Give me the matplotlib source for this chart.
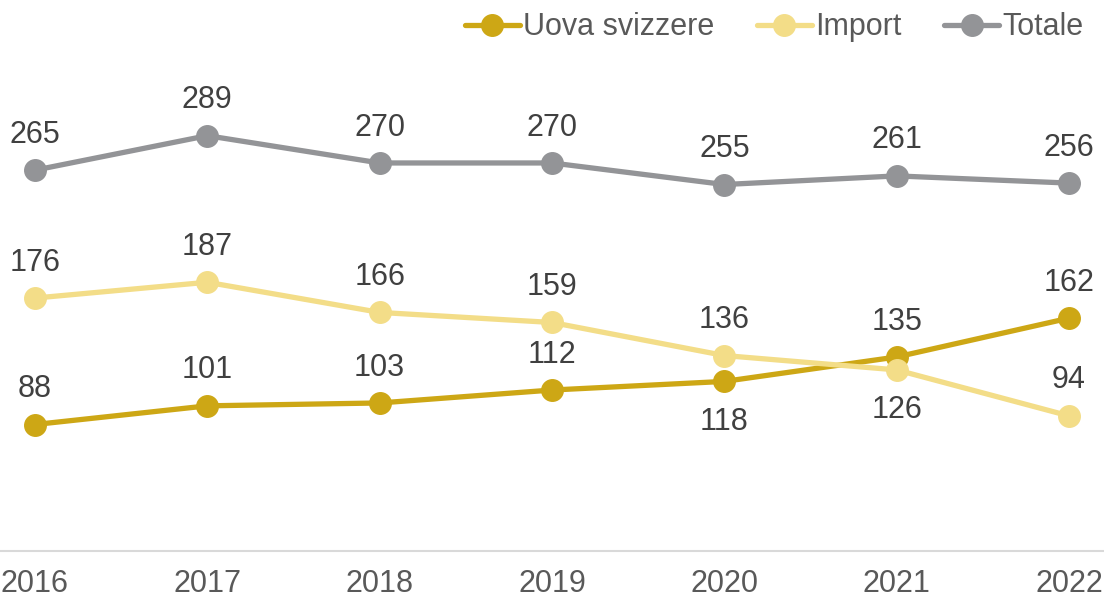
import matplotlib
matplotlib.use('Agg')
import matplotlib.pyplot as plt

years = ['2016', '2017', '2018', '2019', '2020', '2021', '2022']
uova = [88, 101, 103, 112, 118, 135, 162]
imp = [176, 187, 166, 159, 136, 126, 94]
totale = [265, 289, 270, 270, 255, 261, 256]

# label placement: +1 above the point, -1 below
uova_pos = [1, 1, 1, 1, -1, 1, 1]
imp_pos = [1, 1, 1, 1, 1, -1, 1]
tot_pos = [1] * 7

plt.rcParams['font.family'] = ['Liberation Sans', 'DejaVu Sans']

fig = plt.figure(figsize=(11.04, 6), dpi=100)
ax = fig.add_axes([0, 0.0817, 1, 0.8383])

x = list(range(len(years)))
series = [
    ('Uova svizzere', uova, uova_pos, '#CDA715'),
    ('Import', imp, imp_pos, '#F3DD88'),
    ('Totale', totale, tot_pos, '#939497'),
]
for name, vals, pos, col in series:
    ax.plot(x, vals, color=col, lw=3.8, marker='o', ms=15.5, label=name,
            solid_capstyle='round')
    for xi, v, p in zip(x, vals, pos):
        off = 25.5 if p > 0 else -29
        ax.annotate(str(v), (xi, v), xytext=(0, off), textcoords='offset points',
                    ha='center', va='center', fontsize=22, color='#404040')

ax.set_xlim(-0.203, 6.203)
ax.set_ylim(0, 350)
ax.set_xticks(x)
ax.set_xticklabels(years)
ax.set_yticks([])
ax.tick_params(axis='x', length=0, pad=13, labelsize=22, labelcolor='#595959')
for s in ['top', 'left', 'right']:
    ax.spines[s].set_visible(False)
ax.spines['bottom'].set_color('#D9D9D9')
ax.spines['bottom'].set_linewidth(1.5)

fig.legend(loc='upper right', bbox_to_anchor=(0.995, 1.005), ncol=3, frameon=False,
           fontsize=22, labelcolor='#595959', handlelength=1.8, handletextpad=0.1,
           columnspacing=1.4, borderaxespad=0.1)

fig.savefig('out.png', dpi=100, facecolor='white')
